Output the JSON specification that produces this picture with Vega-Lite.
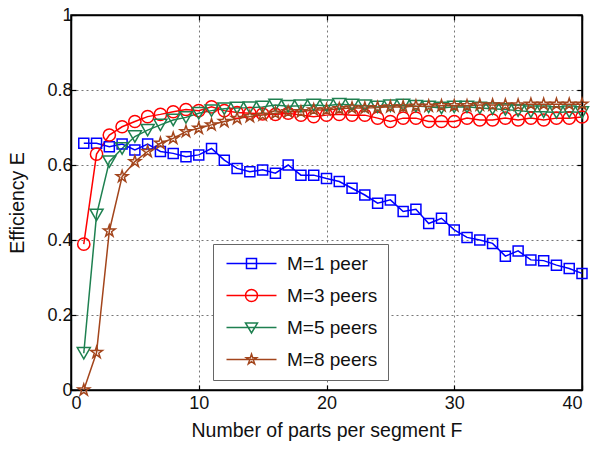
{
  "$schema": "https://vega.github.io/schema/vega-lite/v6.json",
  "width": 511,
  "height": 375,
  "autosize": {"type": "none"},
  "padding": {"left": 71, "top": 15, "right": 9, "bottom": 61},
  "background": "white",
  "config": {
    "font": "Liberation Sans",
    "view": {"stroke": "black", "strokeWidth": 1.5},
    "axis": {
      "labelFont": "Liberation Sans",
      "titleFont": "Liberation Sans",
      "labelFontSize": 18,
      "titleFontSize": 19.5,
      "titleFontWeight": "normal",
      "labelColor": "#111",
      "titleColor": "#111",
      "domainColor": "black",
      "domainWidth": 1.5,
      "tickColor": "black",
      "tickWidth": 1.2,
      "tickSize": -5,
      "gridColor": "#777",
      "gridDash": [2, 3],
      "gridWidth": 1,
      "gridOpacity": 1
    }
  },
  "data": {
    "values": [
      {"F":1,"M":"M=1 peer","E":0.658},{"F":2,"M":"M=1 peer","E":0.658},{"F":3,"M":"M=1 peer","E":0.649},{"F":4,"M":"M=1 peer","E":0.656},{"F":5,"M":"M=1 peer","E":0.64},{"F":6,"M":"M=1 peer","E":0.656},{"F":7,"M":"M=1 peer","E":0.636},{"F":8,"M":"M=1 peer","E":0.631},{"F":9,"M":"M=1 peer","E":0.622},{"F":10,"M":"M=1 peer","E":0.627},
      {"F":11,"M":"M=1 peer","E":0.644},{"F":12,"M":"M=1 peer","E":0.613},{"F":13,"M":"M=1 peer","E":0.591},{"F":14,"M":"M=1 peer","E":0.582},{"F":15,"M":"M=1 peer","E":0.587},{"F":16,"M":"M=1 peer","E":0.578},{"F":17,"M":"M=1 peer","E":0.6},{"F":18,"M":"M=1 peer","E":0.573},{"F":19,"M":"M=1 peer","E":0.573},{"F":20,"M":"M=1 peer","E":0.564},
      {"F":21,"M":"M=1 peer","E":0.556},{"F":22,"M":"M=1 peer","E":0.538},{"F":23,"M":"M=1 peer","E":0.52},{"F":24,"M":"M=1 peer","E":0.498},{"F":25,"M":"M=1 peer","E":0.507},{"F":26,"M":"M=1 peer","E":0.476},{"F":27,"M":"M=1 peer","E":0.482},{"F":28,"M":"M=1 peer","E":0.444},{"F":29,"M":"M=1 peer","E":0.458},{"F":30,"M":"M=1 peer","E":0.427},
      {"F":31,"M":"M=1 peer","E":0.407},{"F":32,"M":"M=1 peer","E":0.4},{"F":33,"M":"M=1 peer","E":0.391},{"F":34,"M":"M=1 peer","E":0.357},{"F":35,"M":"M=1 peer","E":0.371},{"F":36,"M":"M=1 peer","E":0.347},{"F":37,"M":"M=1 peer","E":0.345},{"F":38,"M":"M=1 peer","E":0.333},{"F":39,"M":"M=1 peer","E":0.324},{"F":40,"M":"M=1 peer","E":0.311},

      {"F":1,"M":"M=3 peers","E":0.389},{"F":2,"M":"M=3 peers","E":0.629},{"F":3,"M":"M=3 peers","E":0.68},{"F":4,"M":"M=3 peers","E":0.702},{"F":5,"M":"M=3 peers","E":0.716},{"F":6,"M":"M=3 peers","E":0.729},{"F":7,"M":"M=3 peers","E":0.735},{"F":8,"M":"M=3 peers","E":0.742},{"F":9,"M":"M=3 peers","E":0.748},{"F":10,"M":"M=3 peers","E":0.745},
      {"F":11,"M":"M=3 peers","E":0.755},{"F":12,"M":"M=3 peers","E":0.745},{"F":13,"M":"M=3 peers","E":0.74},{"F":14,"M":"M=3 peers","E":0.738},{"F":15,"M":"M=3 peers","E":0.736},{"F":16,"M":"M=3 peers","E":0.735},{"F":17,"M":"M=3 peers","E":0.738},{"F":18,"M":"M=3 peers","E":0.733},{"F":19,"M":"M=3 peers","E":0.729},{"F":20,"M":"M=3 peers","E":0.733},
      {"F":21,"M":"M=3 peers","E":0.735},{"F":22,"M":"M=3 peers","E":0.733},{"F":23,"M":"M=3 peers","E":0.733},{"F":24,"M":"M=3 peers","E":0.725},{"F":25,"M":"M=3 peers","E":0.716},{"F":26,"M":"M=3 peers","E":0.725},{"F":27,"M":"M=3 peers","E":0.725},{"F":28,"M":"M=3 peers","E":0.716},{"F":29,"M":"M=3 peers","E":0.716},{"F":30,"M":"M=3 peers","E":0.716},
      {"F":31,"M":"M=3 peers","E":0.725},{"F":32,"M":"M=3 peers","E":0.72},{"F":33,"M":"M=3 peers","E":0.72},{"F":34,"M":"M=3 peers","E":0.725},{"F":35,"M":"M=3 peers","E":0.72},{"F":36,"M":"M=3 peers","E":0.725},{"F":37,"M":"M=3 peers","E":0.72},{"F":38,"M":"M=3 peers","E":0.725},{"F":39,"M":"M=3 peers","E":0.725},{"F":40,"M":"M=3 peers","E":0.728},

      {"F":1,"M":"M=5 peers","E":0.098},{"F":2,"M":"M=5 peers","E":0.467},{"F":3,"M":"M=5 peers","E":0.609},{"F":4,"M":"M=5 peers","E":0.644},{"F":5,"M":"M=5 peers","E":0.676},{"F":6,"M":"M=5 peers","E":0.693},{"F":7,"M":"M=5 peers","E":0.707},{"F":8,"M":"M=5 peers","E":0.72},{"F":9,"M":"M=5 peers","E":0.727},{"F":10,"M":"M=5 peers","E":0.738},
      {"F":11,"M":"M=5 peers","E":0.745},{"F":12,"M":"M=5 peers","E":0.75},{"F":13,"M":"M=5 peers","E":0.752},{"F":14,"M":"M=5 peers","E":0.753},{"F":15,"M":"M=5 peers","E":0.755},{"F":16,"M":"M=5 peers","E":0.76},{"F":17,"M":"M=5 peers","E":0.757},{"F":18,"M":"M=5 peers","E":0.758},{"F":19,"M":"M=5 peers","E":0.76},{"F":20,"M":"M=5 peers","E":0.758},
      {"F":21,"M":"M=5 peers","E":0.762},{"F":22,"M":"M=5 peers","E":0.76},{"F":23,"M":"M=5 peers","E":0.758},{"F":24,"M":"M=5 peers","E":0.755},{"F":25,"M":"M=5 peers","E":0.758},{"F":26,"M":"M=5 peers","E":0.76},{"F":27,"M":"M=5 peers","E":0.757},{"F":28,"M":"M=5 peers","E":0.755},{"F":29,"M":"M=5 peers","E":0.752},{"F":30,"M":"M=5 peers","E":0.755},
      {"F":31,"M":"M=5 peers","E":0.755},{"F":32,"M":"M=5 peers","E":0.752},{"F":33,"M":"M=5 peers","E":0.75},{"F":34,"M":"M=5 peers","E":0.748},{"F":35,"M":"M=5 peers","E":0.745},{"F":36,"M":"M=5 peers","E":0.742},{"F":37,"M":"M=5 peers","E":0.742},{"F":38,"M":"M=5 peers","E":0.74},{"F":39,"M":"M=5 peers","E":0.742},{"F":40,"M":"M=5 peers","E":0.74},

      {"F":1,"M":"M=8 peers","E":0.0},{"F":2,"M":"M=8 peers","E":0.1},{"F":3,"M":"M=8 peers","E":0.424},{"F":4,"M":"M=8 peers","E":0.569},{"F":5,"M":"M=8 peers","E":0.609},{"F":6,"M":"M=8 peers","E":0.636},{"F":7,"M":"M=8 peers","E":0.658},{"F":8,"M":"M=8 peers","E":0.671},{"F":9,"M":"M=8 peers","E":0.689},{"F":10,"M":"M=8 peers","E":0.698},
      {"F":11,"M":"M=8 peers","E":0.707},{"F":12,"M":"M=8 peers","E":0.716},{"F":13,"M":"M=8 peers","E":0.724},{"F":14,"M":"M=8 peers","E":0.729},{"F":15,"M":"M=8 peers","E":0.733},{"F":16,"M":"M=8 peers","E":0.738},{"F":17,"M":"M=8 peers","E":0.742},{"F":18,"M":"M=8 peers","E":0.742},{"F":19,"M":"M=8 peers","E":0.747},{"F":20,"M":"M=8 peers","E":0.747},
      {"F":21,"M":"M=8 peers","E":0.75},{"F":22,"M":"M=8 peers","E":0.752},{"F":23,"M":"M=8 peers","E":0.752},{"F":24,"M":"M=8 peers","E":0.753},{"F":25,"M":"M=8 peers","E":0.755},{"F":26,"M":"M=8 peers","E":0.755},{"F":27,"M":"M=8 peers","E":0.757},{"F":28,"M":"M=8 peers","E":0.757},{"F":29,"M":"M=8 peers","E":0.758},{"F":30,"M":"M=8 peers","E":0.758},
      {"F":31,"M":"M=8 peers","E":0.758},{"F":32,"M":"M=8 peers","E":0.76},{"F":33,"M":"M=8 peers","E":0.76},{"F":34,"M":"M=8 peers","E":0.76},{"F":35,"M":"M=8 peers","E":0.76},{"F":36,"M":"M=8 peers","E":0.762},{"F":37,"M":"M=8 peers","E":0.762},{"F":38,"M":"M=8 peers","E":0.762},{"F":39,"M":"M=8 peers","E":0.762},{"F":40,"M":"M=8 peers","E":0.762}
    ]
  },
  "encoding": {
    "x": {"field": "F", "type": "quantitative", "scale": {"domain": [0, 40], "nice": false}},
    "y": {"field": "E", "type": "quantitative", "scale": {"domain": [0, 1], "nice": false}},
    "color": {
      "field": "M", "type": "nominal",
      "scale": {"domain": ["M=1 peer", "M=3 peers", "M=5 peers", "M=8 peers"], "range": ["#0000ff", "#ff0000", "#1e8050", "#a3451c"]},
      "legend": {
        "title": null,
        "orient": "none",
        "legendX": 142,
        "legendY": 229,
        "direction": "vertical",
        "fillColor": "white",
        "strokeColor": "#666",
        "padding": 10,
        "rowPadding": 12,
        "labelFont": "Liberation Sans",
        "labelFontSize": 19,
        "labelColor": "#111",
        "labelOffset": 45,
        "symbolSize": 144,
        "symbolStrokeWidth": 1.5,
        "encode": {
          "symbols": {
            "update": {
              "shape": {"signal": "datum.value == 'M=1 peer' ? 'M-1,0H7.333M2.333,-0.833H4V0.833H2.333Z' : datum.value == 'M=3 peers' ? 'M-1,0H7.333M4.1667,0A1,1 0 1,1 2.1667,0A1,1 0 1,1 4.1667,0Z' : datum.value == 'M=5 peers' ? 'M-1,0H7.333M2.1667,-0.75L4.1667,-0.75L3.1667,0.917Z' : 'M-1,0H7.333M3.167,-0.9L3.369,-0.278L4.023,-0.278L3.494,0.106L3.696,0.728L3.167,0.344L2.638,0.728L2.84,0.106L2.311,-0.278L2.965,-0.278Z'"},
              "fill": {"value": "transparent"},
              "size": {"value": 144},
              "strokeWidth": {"value": 1.5}
            }
          }
        }
      }
    }
  },
  "layer": [
    {
      "mark": {"type": "line", "strokeWidth": 1.5},
      "encoding": {
        "x": {"field": "F", "type": "quantitative", "axis": {"orient": "bottom", "values": [0, 10, 20, 30, 40], "title": "Number of parts per segment F", "labelPadding": 9, "titlePadding": 9, "grid": true}},
        "y": {"field": "E", "type": "quantitative", "axis": {"orient": "left", "values": [0, 0.2, 0.4, 0.6, 0.8, 1], "format": "~g", "title": "Efficiency E", "labelPadding": 4, "titlePadding": 19, "grid": true}}
      }
    },
    {
      "transform": [{"filter": "datum.M == 'M=1 peer'"}],
      "mark": {"type": "point", "shape": "square", "size": 100, "filled": false, "strokeWidth": 1.5, "opacity": 1},
      "encoding": {
        "x": {"field": "F", "type": "quantitative", "axis": {"orient": "top", "values": [0, 10, 20, 30, 40], "labels": false, "title": null, "grid": false}},
        "y": {"field": "E", "type": "quantitative", "axis": {"orient": "right", "values": [0, 0.2, 0.4, 0.6, 0.8, 1], "labels": false, "title": null, "grid": false}}
      }
    },
    {
      "transform": [{"filter": "datum.M == 'M=3 peers'"}],
      "mark": {"type": "point", "shape": "circle", "size": 150, "filled": false, "strokeWidth": 1.5, "opacity": 1},
      "encoding": {
        "x": {"field": "F", "type": "quantitative", "axis": null},
        "y": {"field": "E", "type": "quantitative", "axis": null}
      }
    },
    {
      "transform": [{"filter": "datum.M == 'M=5 peers'"}],
      "mark": {"type": "point", "shape": "triangle-down", "size": 170, "filled": false, "strokeWidth": 1.5, "opacity": 1},
      "encoding": {
        "x": {"field": "F", "type": "quantitative", "axis": null},
        "y": {"field": "E", "type": "quantitative", "axis": null}
      }
    },
    {
      "transform": [{"filter": "datum.M == 'M=8 peers'"}],
      "mark": {"type": "point", "shape": "M0,-1L0.2245,-0.309L0.951,-0.309L0.363,0.118L0.588,0.809L0,0.382L-0.588,0.809L-0.363,0.118L-0.951,-0.309L-0.2245,-0.309Z", "size": 150, "filled": false, "strokeWidth": 1.5, "opacity": 1},
      "encoding": {
        "x": {"field": "F", "type": "quantitative", "axis": null},
        "y": {"field": "E", "type": "quantitative", "axis": null}
      }
    }
  ],
  "resolve": {"axis": {"x": "independent", "y": "independent"}}
}
